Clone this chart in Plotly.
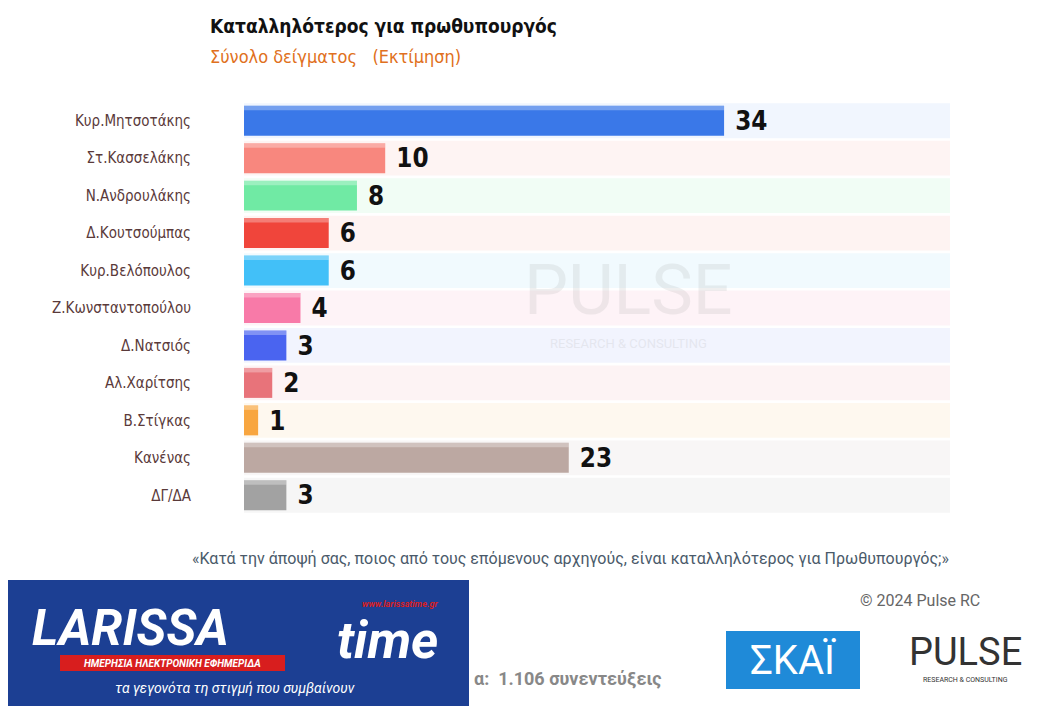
import plotly.graph_objects as go

names = ["Κυρ.Μητσοτάκης","Στ.Κασσελάκης","Ν.Ανδρουλάκης","Δ.Κουτσούμπας","Κυρ.Βελόπουλος",
         "Ζ.Κωνσταντοπούλου","Δ.Νατσιός","Αλ.Χαρίτσης","Β.Στίγκας","Κανένας","ΔΓ/ΔΑ"]
values = [34,10,8,6,6,4,3,2,1,23,3]
colors = ["#3a78e8","#f8877e","#70eaa4","#f0453b","#42c0f8","#f87aa8","#4a64f0","#e8737a","#f8a640","#bca8a2","#a2a2a2"]
bands = ["#f1f6fe","#fef4f3","#f1fdf5","#fef3f2","#f1fafe","#fef3f7","#f2f4fe","#fdf3f4","#fef8ef","#f8f6f6","#f6f6f6"]
xmax = 50

W, H = 1045, 706
L, R, T, B = 236, 103, 94, 200
PW, PH = W - L - R, H - T - B

fig = go.Figure()
fig.add_trace(go.Bar(y=names, x=[xmax]*len(names), orientation="h", marker=dict(color=bands, line_width=0),
                     width=0.93, hoverinfo="skip", showlegend=False))
fig.add_trace(go.Bar(y=names, x=values, orientation="h", marker=dict(color=colors, line_width=0),
                     width=0.8, text=["<b> %d</b>" % v for v in values], textposition="outside",
                     textfont=dict(family="DejaVu Sans Condensed", size=31, color="#111"),
                     cliponaxis=False, showlegend=False))
fig.add_trace(go.Bar(y=names, x=values, orientation="h", base=0, offset=-0.4, width=0.12,
                     marker=dict(color="rgba(255,255,255,0.3)", line_width=0), hoverinfo="skip", showlegend=False))

fig.update_layout(
    width=W, height=H, barmode="overlay", plot_bgcolor="white", paper_bgcolor="white",
    margin=dict(l=L, r=R, t=T, b=B), bargap=0.05,
    xaxis=dict(range=[0, xmax], visible=False, fixedrange=True),
    yaxis=dict(autorange="reversed", tickfont=dict(family="DejaVu Sans Condensed", size=15, color="#5a3a3a"),
               ticks="", showgrid=False, ticklabelstandoff=52),
    font=dict(family="Roboto"),
)

def px(x, y):
    return (x - 8 - L) / PW, (H - B - (y - 8)) / PH

shapes = []
def rect(x0, y0, x1, y1, color):
    a, b = px(x0, y1); c, d = px(x1, y0)
    shapes.append(dict(type="rect", xref="paper", yref="paper", x0=a, y0=b, x1=c, y1=d,
                       fillcolor=color, line_width=0, layer="above"))
rect(0, 580, 469, 706, "#1c3f93")
rect(60, 655, 285, 671, "#d81e1e")
rect(726, 631, 860, 689, "#1f8ad8")
fig.update_layout(shapes=shapes)

def txt(x, y, s, size, color, anchor="left", opacity=1.0, family="Roboto"):
    a, b = px(x, y)
    fig.add_annotation(x=a, y=b, xref="paper", yref="paper", text=s, showarrow=False, xanchor=anchor,
                       yanchor="middle", opacity=opacity, font=dict(size=size, color=color, family=family))

txt(208, 26, "<b>Καταλληλότερος για πρωθυπουργός</b>", 19, "#111", family="DejaVu Sans Condensed")
txt(208, 56, "Σύνολο δείγματος   (Εκτίμηση)", 18, "#e07020", family="DejaVu Sans Condensed")
txt(190, 558, "«Κατά την άποψή σας, ποιος από τους επόμενους αρχηγούς, είναι καταλληλότερος για Πρωθυπουργός;»", 16, "#4a5a6a")
txt(858, 600, "© 2024 Pulse RC", 16, "#666")
txt(472, 678, "<b>α:  1.106 συνεντεύξεις</b>", 18, "#888")
txt(30, 628, "<b><i>LARISSA</i></b>", 50, "white")
txt(335, 640, "<b><i>time</i></b>", 52, "white")
txt(440, 604, "<b><i>www.larissatime.gr</i></b>", 9, "#d81e1e", "right")
txt(172, 663, "<b><i>ΗΜΕΡΗΣΙΑ ΗΛΕΚΤΡΟΝΙΚΗ ΕΦΗΜΕΡΙΔΑ</i></b>", 10, "white", "center")
txt(235, 688, "<i>τα γεγονότα τη στιγμή που συμβαίνουν</i>", 14, "white", "center")
txt(793, 660, "ΣΚΑΪ", 40, "white", "center")
txt(965, 652, "PULSE", 38, "#333", "center")
txt(965, 680, "RESEARCH & CONSULTING", 7, "#333", "center")
txt(628, 290, "PULSE", 70, "#999", "center", opacity=0.15)
txt(628, 343, "RESEARCH & CONSULTING", 13, "#999", "center", opacity=0.15)

fig.write_html("out.html")
